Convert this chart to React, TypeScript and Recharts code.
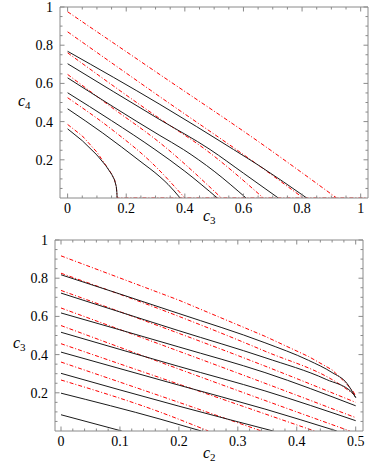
import React from 'react';
import { LineChart, Line, XAxis, YAxis } from 'recharts';

type P = [number, number];

// ---------- Top panel (c3 vs c4) ----------
const topXTicks = [0, 0.05, 0.1, 0.15, 0.2, 0.25, 0.3, 0.35, 0.4, 0.45, 0.5, 0.55, 0.6, 0.65, 0.7, 0.75, 0.8, 0.85, 0.9, 0.95, 1.0];
const topYTicks = [0.05, 0.1, 0.15, 0.2, 0.25, 0.3, 0.35, 0.4, 0.45, 0.5, 0.55, 0.6, 0.65, 0.7, 0.75, 0.8, 0.85, 0.9, 0.95, 1.0];

const topBlack1: P[] = [[0, 0.768], [0.315, 0.49], [0.566, 0.254], [0.657, 0.166], [0.816, 0]];
const topBlack2: P[] = [[0, 0.703], [0.315, 0.41], [0.486, 0.254], [0.6, 0.13], [0.719, 0]];
const topBlack3: P[] = [[0, 0.629], [0.315, 0.327], [0.395, 0.254], [0.5, 0.14], [0.609, 0]];
const topBlack4: P[] = [[0, 0.551], [0.15, 0.405], [0.298, 0.254], [0.4, 0.14], [0.511, 0]];
const topBlack5: P[] = [[0, 0.467], [0.12, 0.34], [0.247, 0.193], [0.315, 0.111], [0.343, 0.071], [0.384, 0]];
const topBlack6: P[] = [[0, 0.362], [0.05, 0.3], [0.1, 0.225], [0.13, 0.17], [0.15, 0.125], [0.16, 0.095], [0.166, 0.06], [0.168, 0.03], [0.169, 0]];

const topRed1: P[] = [[0, 0.975], [0.315, 0.646], [0.657, 0.289], [0.918, 0]];
const topRed2: P[] = [[0, 0.87], [0.315, 0.53], [0.657, 0.165], [0.804, 0]];
const topRed3: P[] = [[0, 0.76], [0.315, 0.415], [0.47, 0.254], [0.668, 0]];
const topRed4: P[] = [[0, 0.647], [0.15, 0.475], [0.315, 0.289], [0.525, 0]];
const topRed5: P[] = [[0, 0.525], [0.15, 0.36], [0.29, 0.18], [0.4, 0]];
const topRed6: P[] = [[0, 0.385], [0.05, 0.325], [0.1, 0.24], [0.13, 0.172], [0.15, 0.126], [0.16, 0.096], [0.166, 0.06], [0.168, 0.03], [0.169, 0], [1.02, 0]];

// ---------- Bottom panel (c2 vs c3) ----------
const botXTicks = [0, 0.02, 0.04, 0.06, 0.08, 0.1, 0.12, 0.14, 0.16, 0.18, 0.2, 0.22, 0.24, 0.26, 0.28, 0.3, 0.32, 0.34, 0.36, 0.38, 0.4, 0.42, 0.44, 0.46, 0.48, 0.5];
const botYTicks = topYTicks;

const botBlack1: P[] = [[0, 0.818], [0.2, 0.615], [0.346, 0.462], [0.42, 0.37], [0.46, 0.306], [0.485, 0.25], [0.5, 0.175]];
const botBlack2: P[] = [[0, 0.722], [0.2, 0.525], [0.346, 0.384], [0.45, 0.27], [0.494, 0.201], [0.5, 0.175]];
const botBlack3: P[] = [[0, 0.618], [0.2, 0.44], [0.346, 0.306], [0.5, 0.132]];
const botBlack4: P[] = [[0, 0.517], [0.2, 0.338], [0.346, 0.21], [0.5, 0.054]];
const botBlack5: P[] = [[0, 0.413], [0.2, 0.24], [0.346, 0.115], [0.468, 0]];
const botBlack6: P[] = [[0, 0.302], [0.2, 0.13], [0.36, 0]];
const botBlack7: P[] = [[0, 0.198], [0.168, 0.0625], [0.238, 0]];
const botBlack8: P[] = [[0, 0.085], [0.103, 0]];

const botRed1: P[] = [[0, 0.917], [0.2, 0.685], [0.346, 0.496], [0.42, 0.39], [0.46, 0.32], [0.482, 0.255], [0.495, 0.21], [0.5, 0.185]];
const botRed2: P[] = [[0, 0.826], [0.2, 0.6], [0.346, 0.418], [0.47, 0.25], [0.5, 0.185]];
const botRed3: P[] = [[0, 0.736], [0.346, 0.34], [0.5, 0.15]];
const botRed4: P[] = [[0, 0.644], [0.346, 0.25], [0.5, 0.07]];
const botRed5: P[] = [[0, 0.552], [0.346, 0.16], [0.49, 0]];
const botRed6: P[] = [[0, 0.457], [0.2, 0.245], [0.43, 0]];
const botRed7: P[] = [[0, 0.361], [0.2, 0.15], [0.34, 0]];
const botRed8: P[] = [[0, 0.267], [0.168, 0.099], [0.25, 0]];

const FRAME = '#8a8a8a';
const FONT = "'Liberation Serif', 'DejaVu Serif', serif";

const toData = (pts: P[]) => pts.map(([x, y]) => ({ x, y }));
const isMajor = (v: number, step: number) => Math.abs(v / step - Math.round(v / step)) < 1e-6;
const fmt = (v: number) => {
  const r = Math.round(v * 100) / 100;
  return r === 0 ? '0' : r === 1 ? '1' : String(r);
};

const makeTick = (side: 'bottom' | 'left' | 'top' | 'right', step: number, labels: boolean) => (props: any) => {
  const { x, y, payload } = props;
  const v = payload.value as number;
  const major = isMajor(v, step);
  const len = major ? 4.5 : 2.5;
  let line;
  if (side === 'bottom') line = <line x1={x} y1={y} x2={x} y2={y - len} stroke={FRAME} />;
  else if (side === 'top') line = <line x1={x} y1={y} x2={x} y2={y + len} stroke={FRAME} />;
  else if (side === 'left') line = <line x1={x} y1={y} x2={x + len} y2={y} stroke={FRAME} />;
  else line = <line x1={x} y1={y} x2={x - len} y2={y} stroke={FRAME} />;
  let label = null;
  if (labels && major) {
    if (side === 'bottom')
      label = (
        <text x={x} y={y + 15} textAnchor="middle" style={{ fontFamily: FONT, fontSize: 14 }} fill="#000">
          {fmt(v)}
        </text>
      );
    else if (side === 'left')
      label = (
        <text x={x - 7} y={y + 5} textAnchor="end" style={{ fontFamily: FONT, fontSize: 14 }} fill="#000">
          {fmt(v)}
        </text>
      );
  }
  return (
    <g>
      {line}
      {label}
    </g>
  );
};

const redStyle = { stroke: '#ff0000', strokeWidth: 1, strokeDasharray: '4 2 1 2' };
const blackStyle = { stroke: '#1a1a1a', strokeWidth: 1 };

type PanelProps = {
  width: number;
  height: number;
  margin: { top: number; right: number; bottom: number; left: number };
  xDomain: [number, number];
  xTicks: number[];
  xStep: number;
  yTicks: number[];
  black: P[][];
  red: P[][];
};

function Panel({ width, height, margin, xDomain, xTicks, xStep, yTicks, black, red }: PanelProps) {
  return (
    <LineChart width={width} height={height} margin={margin}>
      <XAxis
        xAxisId="b"
        type="number"
        dataKey="x"
        domain={xDomain}
        allowDataOverflow
        ticks={xTicks}
        interval={0}
        height={20}
        tickSize={0}
        tickMargin={0}
        axisLine={{ stroke: FRAME }}
        tickLine={false}
        tick={makeTick('bottom', xStep, true)}
      />
      <XAxis
        xAxisId="t"
        orientation="top"
        type="number"
        dataKey="x"
        domain={xDomain}
        allowDataOverflow
        ticks={xTicks}
        interval={0}
        height={5}
        tickSize={0}
        tickMargin={0}
        axisLine={{ stroke: FRAME }}
        tickLine={false}
        tick={makeTick('top', xStep, false)}
      />
      <YAxis
        yAxisId="l"
        type="number"
        domain={[0, 1]}
        allowDataOverflow
        ticks={yTicks}
        interval={0}
        width={30}
        tickSize={0}
        tickMargin={0}
        axisLine={{ stroke: FRAME }}
        tickLine={false}
        tick={makeTick('left', 0.2, true)}
      />
      <YAxis
        yAxisId="r"
        orientation="right"
        type="number"
        domain={[0, 1]}
        allowDataOverflow
        ticks={yTicks}
        interval={0}
        width={5}
        tickSize={0}
        tickMargin={0}
        axisLine={{ stroke: FRAME }}
        tickLine={false}
        tick={makeTick('right', 0.2, false)}
      />
      {red.map((pts, i) => (
        <Line
          key={'r' + i}
          xAxisId="b"
          yAxisId="l"
          data={toData(pts)}
          dataKey="y"
          type={pts.length > 7 ? 'linear' : 'monotone'}
          dot={false}
          activeDot={false}
          isAnimationActive={false}
          {...redStyle}
        />
      ))}
      {black.map((pts, i) => (
        <Line
          key={'b' + i}
          xAxisId="b"
          yAxisId="l"
          data={toData(pts)}
          dataKey="y"
          type={pts.length > 7 ? 'linear' : 'monotone'}
          dot={false}
          activeDot={false}
          isAnimationActive={false}
          {...blackStyle}
        />
      ))}
    </LineChart>
  );
}

const AxisLabel = ({ left, top, sub }: { left: number; top: number; sub: string }) => (
  <div
    style={{
      position: 'absolute',
      left,
      top,
      fontFamily: FONT,
      fontSize: 16,
      lineHeight: '16px',
      whiteSpace: 'nowrap',
    }}
  >
    <span style={{ fontStyle: 'italic' }}>c</span>
    <span style={{ fontSize: 11, position: 'relative', top: 3 }}>{sub}</span>
  </div>
);

export default function App() {
  return (
    <div style={{ position: 'absolute', left: 0, top: 0, width: 380, height: 466, background: '#fff' }}>
      <div style={{ position: 'absolute', left: 0, top: 0 }}>
        <Panel
          width={380}
          height={230}
          margin={{ top: 2, right: 7, bottom: 12, left: 30 }}
          xDomain={[-0.026, 1.025]}
          xTicks={topXTicks}
          xStep={0.2}
          yTicks={topYTicks}
          black={[topBlack1, topBlack2, topBlack3, topBlack4, topBlack5, topBlack6]}
          red={[topRed1, topRed2, topRed3, topRed4, topRed5, topRed6]}
        />
      </div>
      <div style={{ position: 'absolute', left: 0, top: 232 }}>
        <Panel
          width={380}
          height={234}
          margin={{ top: 3, right: 12, bottom: 15, left: 25 }}
          xDomain={[-0.0102, 0.5124]}
          xTicks={botXTicks}
          xStep={0.1}
          yTicks={botYTicks}
          black={[botBlack1, botBlack2, botBlack3, botBlack4, botBlack5, botBlack6, botBlack7, botBlack8]}
          red={[botRed1, botRed2, botRed3, botRed4, botRed5, botRed6, botRed7, botRed8]}
        />
      </div>
      <AxisLabel left={18} top={93} sub="4" />
      <AxisLabel left={203} top={208} sub="3" />
      <AxisLabel left={13} top={335} sub="3" />
      <AxisLabel left={203} top={445} sub="2" />
    </div>
  );
}
